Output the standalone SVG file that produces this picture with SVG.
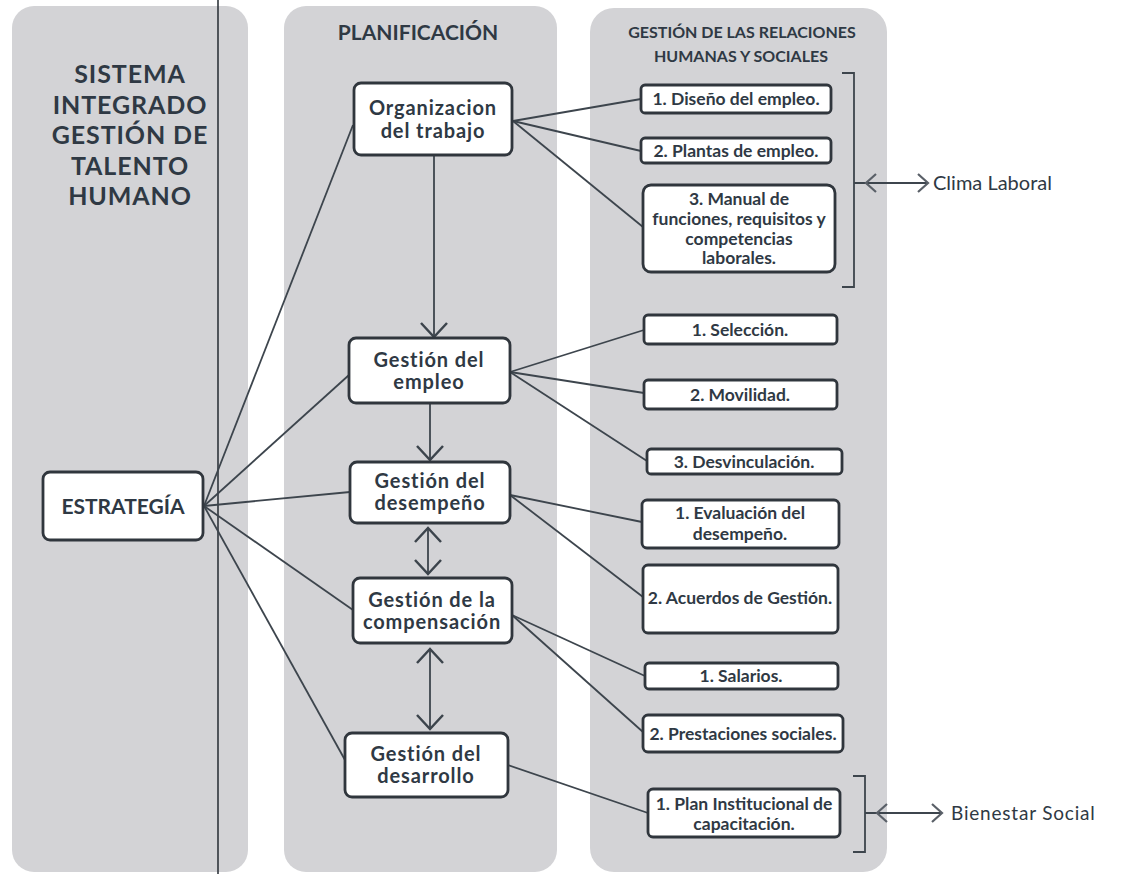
<svg xmlns="http://www.w3.org/2000/svg" width="1131" height="874" viewBox="0 0 1131 874">
<style>
.panel{fill:#d3d3d6;}
.box rect{fill:#ffffff;stroke:#30363d;stroke-width:2.8;}
.t{font-family:Lato,"Open Sans","Liberation Sans",sans-serif;fill:#2f3944;text-anchor:middle;}
.big{font-size:25px;font-weight:bold;letter-spacing:0.9px;}
.mid{font-size:20px;font-weight:bold;letter-spacing:0.9px;}
.sub{font-size:16px;font-weight:bold;}
.r{font-size:17.5px;font-weight:bold;}
.side{font-family:Lato,"Open Sans","Liberation Sans",sans-serif;fill:#2f3944;font-size:20px;}
.c line,.c path{stroke:#3d454d;stroke-width:1.8;fill:none;}
.v{stroke:#3c444c;stroke-width:2.5;fill:none;}
.br{stroke:#343b42;stroke-width:2.5;fill:none;}
</style>
<defs>
<marker id="ah" markerUnits="userSpaceOnUse" markerWidth="32" markerHeight="32" viewBox="-17 -16 19 32" refX="0" refY="0" orient="auto-start-reverse">
<path d="M-14,-13 L0,0 L-14,13" fill="none" stroke="#3c444c" stroke-width="2.5"/>
</marker>
<marker id="as" markerUnits="userSpaceOnUse" markerWidth="24" markerHeight="24" viewBox="-13 -12 15 24" refX="0" refY="0" orient="auto-start-reverse">
<path d="M-10,-9 L0,0 L-10,9" fill="none" stroke="#5a6068" stroke-width="2.2"/>
</marker>
</defs>
<rect width="1131" height="874" fill="#ffffff"/>
<g id="panels">
<rect class="panel" x="12" y="6" width="236" height="866" rx="22"/>
<rect class="panel" x="284" y="6" width="273" height="866" rx="22"/>
<rect class="panel" x="590" y="8" width="297" height="864" rx="24"/>
<line x1="218" y1="0" x2="218" y2="874" stroke="#2f353b" stroke-width="1.6"/>
</g>
<g id="headings">
<text class="t big" x="130" y="83">SISTEMA</text>
<text class="t big" x="130" y="113.5">INTEGRADO</text>
<text class="t big" x="130" y="144">GESTIÓN DE</text>
<text class="t big" x="130" y="174.5">TALENTO</text>
<text class="t big" x="130" y="205">HUMANO</text>
<text class="t" x="418" y="40" style="font-size:21px;font-weight:bold">PLANIFICACIÓN</text>
<text class="t sub" x="742" y="38">GESTIÓN  DE LAS RELACIONES</text>
<text class="t sub" x="741" y="62">HUMANAS Y SOCIALES</text>
</g>
<g class="c" id="connectors">
<line x1="204" y1="506" x2="353" y2="125"/>
<line x1="204" y1="506" x2="349" y2="375"/>
<line x1="204" y1="506" x2="350" y2="492"/>
<line x1="204" y1="506" x2="353" y2="610"/>
<line x1="204" y1="506" x2="345" y2="760"/>
<line x1="513" y1="121" x2="641" y2="99"/>
<line x1="513" y1="121" x2="641" y2="151"/>
<line x1="513" y1="121" x2="643" y2="227"/>
<line x1="510" y1="372" x2="644" y2="330"/>
<line x1="510" y1="372" x2="644" y2="393"/>
<line x1="510" y1="372" x2="647" y2="461"/>
<line x1="510" y1="495" x2="642" y2="522"/>
<line x1="510" y1="495" x2="643" y2="597"/>
<line x1="512" y1="615" x2="645" y2="676"/>
<line x1="512" y1="615" x2="643" y2="732"/>
<line x1="508" y1="765" x2="648" y2="813"/>
<line class="v" x1="434" y1="156" x2="434" y2="337" marker-end="url(#ah)"/>
<line class="v" x1="430" y1="404" x2="430" y2="460" marker-end="url(#ah)"/>
<line class="v" x1="428" y1="528" x2="428" y2="574" marker-start="url(#ah)" marker-end="url(#ah)"/>
<line class="v" x1="430" y1="649" x2="430" y2="729" marker-start="url(#ah)" marker-end="url(#ah)"/>
<path class="br" d="M842,73 L854,73 L854,287 L842,287 M854,183 L866,183"/>
<line x1="866" y1="183" x2="928" y2="183" stroke="#5a6068" stroke-width="2.2" marker-start="url(#as)" marker-end="url(#as)"/>
<path class="br" d="M853,776 L865,776 L865,852 L853,852 M865,813 L877,813"/>
<line x1="877" y1="813" x2="942" y2="813" stroke="#5a6068" stroke-width="2.2" marker-start="url(#as)" marker-end="url(#as)"/>
</g>
<g id="estrategia" class="box"><rect x="43" y="472" width="160" height="68" rx="7"/><text class="t" x="123" y="514" style="font-size:21px;font-weight:bold">ESTRATEGÍA</text></g>
<g id="organizacion" class="box"><rect x="354" y="83" width="158" height="72" rx="7"/><text class="t mid" x="433" y="115">Organizacion</text><text class="t mid" x="433" y="138">del trabajo</text></g>
<g id="empleo" class="box"><rect x="349" y="338" width="161" height="65" rx="7"/><text class="t mid" x="429" y="367">Gestión del</text><text class="t mid" x="429" y="389">empleo</text></g>
<g id="desempeno" class="box"><rect x="350" y="462" width="160" height="61" rx="7"/><text class="t mid" x="430" y="488">Gestión del</text><text class="t mid" x="430" y="510">desempeño</text></g>
<g id="compensacion" class="box"><rect x="353" y="578" width="159" height="65" rx="7"/><text class="t mid" x="432" y="607">Gestión de la</text><text class="t mid" x="432" y="629">compensación</text></g>
<g id="desarrollo" class="box"><rect x="345" y="733" width="163" height="64" rx="7"/><text class="t mid" x="426" y="761">Gestión del</text><text class="t mid" x="426" y="783">desarrollo</text></g>
<g id="diseno" class="box"><rect x="641" y="85" width="190" height="28" rx="4"/><text class="t r" x="736" y="105">1. Diseño del empleo.</text></g>
<g id="plantas" class="box"><rect x="641" y="138" width="190" height="25" rx="4"/><text class="t r" x="736" y="157">2. Plantas de empleo.</text></g>
<g id="manual" class="box"><rect x="643" y="185" width="192" height="87" rx="8"/><text class="t r" x="739" y="205">3. Manual de</text><text class="t r" x="739" y="225">funciones, requisitos y</text><text class="t r" x="739" y="245">competencias</text><text class="t r" x="739" y="264">laborales.</text></g>
<g id="seleccion" class="box"><rect x="644" y="315" width="193" height="29" rx="4"/><text class="t r" x="740" y="336">1. Selección.</text></g>
<g id="movilidad" class="box"><rect x="644" y="380" width="193" height="29" rx="4"/><text class="t r" x="740" y="401">2. Movilidad.</text></g>
<g id="desvinculacion" class="box"><rect x="647" y="449" width="195" height="25" rx="4"/><text class="t r" x="744" y="468">3. Desvinculación.</text></g>
<g id="evaluacion" class="box"><rect x="642" y="500" width="197" height="48" rx="5"/><text class="t r" x="740" y="519">1. Evaluación del</text><text class="t r" x="740" y="540">desempeño.</text></g>
<g id="acuerdos" class="box"><rect x="643" y="565" width="195" height="68" rx="5"/><text class="t r" x="740" y="604">2. Acuerdos de Gestión.</text></g>
<g id="salarios" class="box"><rect x="645" y="663" width="193" height="26" rx="4"/><text class="t r" x="741" y="682">1. Salarios.</text></g>
<g id="prestaciones" class="box"><rect x="643" y="715" width="200" height="37" rx="5"/><text class="t r" x="743" y="740">2. Prestaciones sociales.</text></g>
<g id="plan" class="box"><rect x="648" y="789" width="192" height="48" rx="5"/><text class="t r" x="744" y="810">1. Plan Institucional de</text><text class="t r" x="744" y="830">capacitación.</text></g>
<g id="clima"><text class="side" x="933" y="190">Clima Laboral</text></g>
<g id="bienestar"><text class="side" x="951" y="820" style="font-size:19px" letter-spacing="0.8">Bienestar Social</text></g>
</svg>
